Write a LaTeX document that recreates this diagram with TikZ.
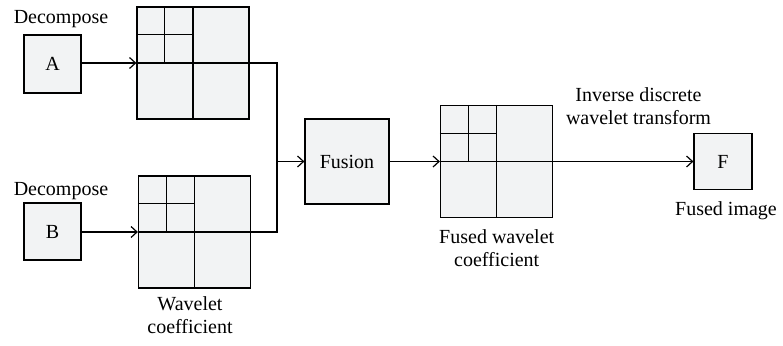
\documentclass[tikz,border=0pt]{standalone}
\usepackage{fontspec}
\setmainfont{Liberation Serif}
\usetikzlibrary{arrows.meta,calc}

\definecolor{boxfill}{RGB}{242,243,244}

\tikzset{
  txt/.style={font=\fontsize{20}{23}\selectfont},
  box/.style={draw, line width=1.2pt, fill=boxfill, inner sep=0pt, txt},
  coef/.style={draw, line width=1.2pt, fill=boxfill, inner sep=0pt, minimum size=112pt},
  lbl/.style={txt, inner sep=0pt, align=center, anchor=base},
  conn/.style={line width=1.2pt},
  arr/.style={conn, -{Straight Barb[length=6pt,width=11pt,line width=1.2pt]}},
  quad/.style={line width=1.2pt}
}

% inner subdivisions of a two-level wavelet coefficient grid
\newcommand{\subbands}[1]{%
  \draw[quad] (#1.north) -- (#1.south)
              (#1.west) -- (#1.east)
              ($(#1.north west)!.25!(#1.north east)$) -- ($(#1.west)!.25!(#1.east)$)
              ($(#1.north west)!.25!(#1.south west)$) -- ($(#1.north)!.25!(#1.south)$);
}

\begin{document}
\begin{tikzpicture}[x=1pt,y=-1pt]
\useasboundingbox (0,0) rectangle (783,345);

% sources
\node[box, minimum width=57pt, minimum height=58pt] (A) at (52.5,64) {A};
\node[box, minimum width=57pt, minimum height=57pt] (B) at (52.5,231.5) {B};
\node[lbl] (decA) at (61,24) {Decompose};
\node[lbl] (decB) at (61,195) {Decompose};

% wavelet coefficients of the two sources
\node[coef] (WA) at (193,63) {};
\node[coef] (WB) at (194.5,232) {};
\subbands{WA}
\subbands{WB}
\node[lbl] (wcoef) at (190,333.3) {Wavelet\\coefficient};

% fusion stage
\node[box, minimum width=84pt, minimum height=85pt] (fus) at (347,161.5) {Fusion};
\node[coef] (WF) at (496.5,161.5) {};
\subbands{WF}
\node[lbl] (fcoef) at (496.7,266.7) {Fused wavelet\\coefficient};

% result
\node[box, minimum width=58pt, minimum height=56pt] (F) at (723,161.5) {F};
\node[lbl] (fimg) at (726,215) {Fused image};
\node[lbl] (idwt) at (638.5,124) {Inverse discrete\\wavelet transform};

% connectors
\coordinate (J) at (277,161.5);
\draw[arr] (A.east |- WA.west) -- (WA.west);
\draw[arr] (B.east |- WB.west) -- (WB.west);
\draw[conn] (WA.east) -| (J);
\draw[conn] (WB.east) -| (J);
\draw[arr] (J) -- (fus.west);
\draw[arr] (fus.east) -- (WF.west);
\draw[arr] (WF.east) -- (F.west);
\end{tikzpicture}
\end{document}
